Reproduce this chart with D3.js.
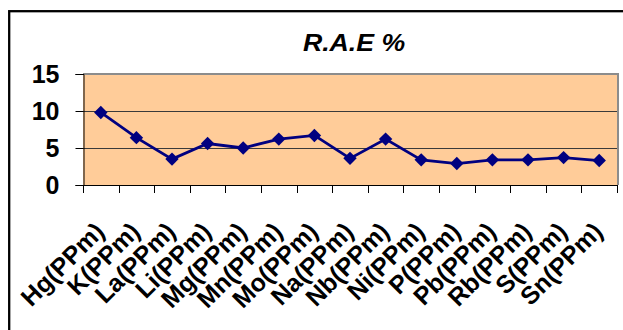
<!DOCTYPE html>
<html>
<head>
<meta charset="utf-8">
<script src="https://cdn.jsdelivr.net/npm/d3@7"></script>
<style>
  html, body { margin: 0; padding: 0; background: #fff; }
  svg { display: block; }
  text { font-family: "Liberation Sans", Arial, sans-serif; font-weight: bold; fill: #000; }
</style>
</head>
<body>
<svg id="chart" width="623" height="330"></svg>
<script>
// Relative absolute error (%) per element
const categories = ["Hg(PPm)", "K(PPm)", "La(PPm)", "Li(PPm)", "Mg(PPm)", "Mn(PPm)", "Mo(PPm)",
                    "Na(PPm)", "Nb(PPm)", "Ni(PPm)", "P(PPm)", "Pb(PPm)", "Rb(PPm)", "S(PPm)", "Sn(PPm)"];
const raeValues = [9.8, 6.4, 3.5, 5.6, 5.0, 6.2, 6.7, 3.6, 6.2, 3.4, 2.9, 3.4, 3.4, 3.7, 3.3];
const yTicks = [0, 5, 10, 15];
const chartTitle = "R.A.E %";

const svg = d3.select("#chart");
const plot = { left: 83, right: 617, top: 74, bottom: 185 };

const x = d3.scaleBand().domain(categories).range([plot.left, plot.right]).padding(0);
const y = d3.scaleLinear().domain([0, 15]).range([plot.bottom, plot.top]);

// Outer chart frame (runs off the right and bottom edges)
svg.append("rect")
  .attr("x", 9.2).attr("y", 11.2)
  .attr("width", 700).attr("height", 400)
  .attr("fill", "none").attr("stroke", "#000").attr("stroke-width", 2.3);

// Title (slightly widened bold italic)
svg.append("text")
  .attr("transform", "translate(354,51) scale(1.16,1)")
  .attr("text-anchor", "middle")
  .style("font-size", "23px").style("font-style", "italic")
  .text(chartTitle);

// Plot background
svg.append("rect")
  .attr("x", plot.left).attr("y", plot.top)
  .attr("width", plot.right - plot.left).attr("height", plot.bottom - plot.top)
  .attr("fill", "#FFCC99");

// Horizontal gridlines
svg.append("g").selectAll("line")
  .data(yTicks.filter(d => d > 0 && d < 15))
  .join("line")
  .attr("x1", plot.left).attr("x2", plot.right)
  .attr("y1", d => Math.round(y(d)) + 0.5).attr("y2", d => Math.round(y(d)) + 0.5)
  .attr("stroke", "#3a3a3a").attr("stroke-width", 1);

// Gray border on top and right of the plot area
svg.append("path")
  .attr("d", `M${plot.left},${plot.top} H${plot.right + 1} V${plot.bottom}`)
  .attr("fill", "none").attr("stroke", "#8c8c8c").attr("stroke-width", 2);

// Y axis
const yAxis = d3.axisLeft(y).tickValues(yTicks).tickSize(8).tickPadding(16);
const gy = svg.append("g").attr("transform", `translate(${plot.left + 0.5},0)`).call(yAxis);
gy.select(".domain").attr("stroke", "#000").attr("stroke-width", 1);
gy.selectAll(".tick line").attr("stroke", "#000");
gy.selectAll(".tick text")
  .style("font-size", "25px").style("font-family", "'Liberation Sans', Arial, sans-serif")
  .style("font-weight", "bold").attr("fill", "#000");

// X axis line and tick marks at category boundaries
const gx = svg.append("g");
gx.append("line")
  .attr("x1", plot.left).attr("x2", plot.right + 1)
  .attr("y1", plot.bottom + 0.5).attr("y2", plot.bottom + 0.5)
  .attr("stroke", "#000");
const bounds = categories.map(c => x(c)).concat([x(categories[categories.length - 1]) + x.bandwidth()]);
gx.selectAll("line.tick")
  .data(bounds)
  .join("line").attr("class", "tick")
  .attr("x1", d => Math.round(d) + 0.5).attr("x2", d => Math.round(d) + 0.5)
  .attr("y1", plot.bottom).attr("y2", plot.bottom + 8)
  .attr("stroke", "#000");

// Rotated category labels
gx.selectAll("text")
  .data(categories)
  .join("text")
  .attr("transform", d => `translate(${x(d) + x.bandwidth() / 2 + 5},${plot.bottom + 48}) rotate(-45)`)
  .attr("text-anchor", "end")
  .style("font-size", "25px")
  .text(d => d);

// Series line and diamond markers
const cx = d => x(d) + x.bandwidth() / 2;
const line = d3.line().x((d, i) => cx(categories[i])).y(d => y(d));
svg.append("path")
  .datum(raeValues)
  .attr("d", line)
  .attr("fill", "none").attr("stroke", "#000080").attr("stroke-width", 2.8);

svg.append("g").selectAll("path")
  .data(raeValues)
  .join("path")
  .attr("transform", (d, i) => `translate(${cx(categories[i])},${y(d)}) rotate(45)`)
  .attr("d", d3.symbol().type(d3.symbolSquare).size(90))
  .attr("fill", "#000080");
</script>
</body>
</html>
